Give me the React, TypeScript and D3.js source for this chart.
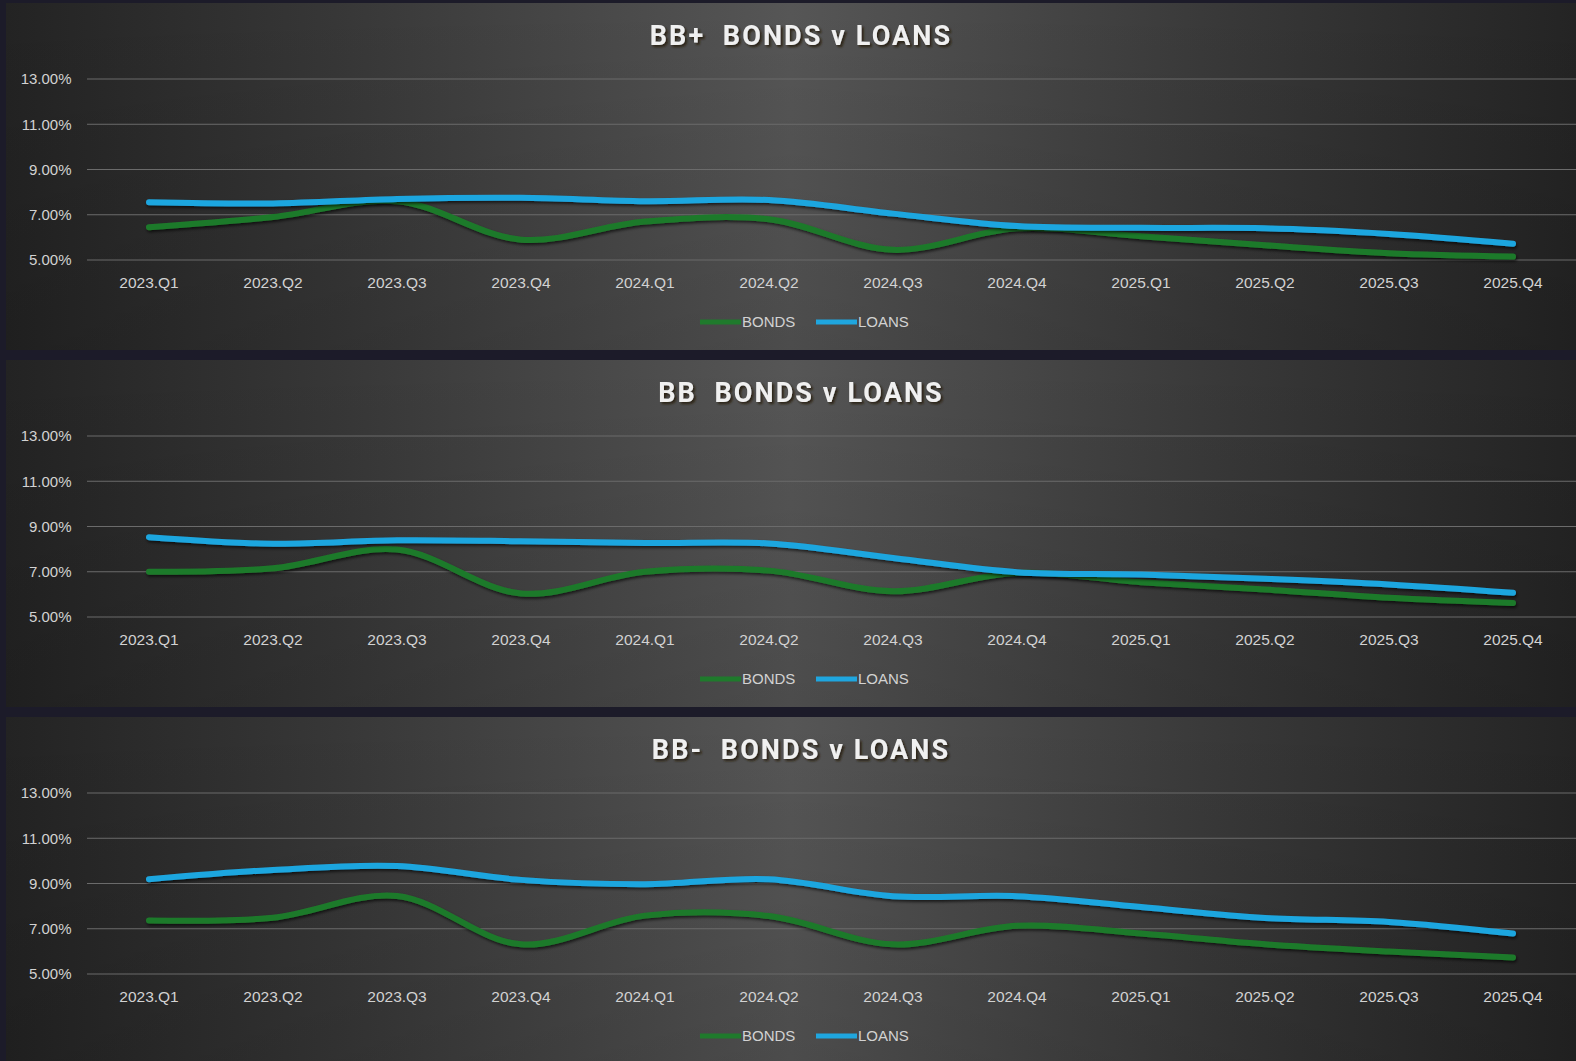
import React, { useEffect, useRef } from 'react';
import * as d3 from 'd3';

const quarters = [
  '2023.Q1', '2023.Q2', '2023.Q3', '2023.Q4',
  '2024.Q1', '2024.Q2', '2024.Q3', '2024.Q4',
  '2025.Q1', '2025.Q2', '2025.Q3', '2025.Q4',
];

const yTicks = [5, 7, 9, 11, 13];

const bbPlusBonds = [6.45, 6.9, 7.6, 5.9, 6.7, 6.8, 5.45, 6.4, 6.05, 5.65, 5.3, 5.15];
const bbPlusLoans = [7.55, 7.5, 7.7, 7.75, 7.6, 7.65, 7.05, 6.5, 6.42, 6.4, 6.15, 5.72];

const bbBonds = [7.0, 7.15, 7.98, 6.04, 7.0, 7.05, 6.14, 6.95, 6.54, 6.22, 5.85, 5.62];
const bbLoans = [8.53, 8.24, 8.39, 8.35, 8.27, 8.25, 7.61, 6.98, 6.88, 6.69, 6.44, 6.07];

const bbMinusBonds = [7.37, 7.49, 8.45, 6.31, 7.58, 7.56, 6.31, 7.13, 6.79, 6.31, 5.99, 5.73];
const bbMinusLoans = [9.19, 9.6, 9.77, 9.16, 8.97, 9.19, 8.44, 8.44, 7.96, 7.48, 7.3, 6.79];

const panels = [
  { title: 'BB+  BONDS v LOANS', bonds: bbPlusBonds, loans: bbPlusLoans },
  { title: 'BB  BONDS v LOANS', bonds: bbBonds, loans: bbLoans },
  { title: 'BB-  BONDS v LOANS', bonds: bbMinusBonds, loans: bbMinusLoans },
];

const BONDS_COLOR = '#1f7a2c';
const LOANS_COLOR = '#1fa6df';

const App: React.FC = () => {
  const svgRef = useRef<SVGSVGElement>(null);

  useEffect(() => {
    if (!svgRef.current) return;
    const width = 1576;
    const height = 1061;
    const svg = d3.select(svgRef.current);
    svg.selectAll('*').remove();
    svg.attr('width', width).attr('height', height);

    const defs = svg.append('defs');
    const grad = defs.append('linearGradient')
      .attr('id', 'panelBg')
      .attr('x1', '0%').attr('x2', '100%').attr('y1', '0%').attr('y2', '0%');
    grad.append('stop').attr('offset', '0%').attr('stop-color', '#232323');
    grad.append('stop').attr('offset', '22%').attr('stop-color', '#383838');
    grad.append('stop').attr('offset', '50%').attr('stop-color', '#565656');
    grad.append('stop').attr('offset', '78%').attr('stop-color', '#383838');
    grad.append('stop').attr('offset', '100%').attr('stop-color', '#242424');

    const shade = defs.append('linearGradient')
      .attr('id', 'panelShade')
      .attr('x1', '0%').attr('x2', '0%').attr('y1', '0%').attr('y2', '100%');
    shade.append('stop').attr('offset', '0%').attr('stop-color', '#000').attr('stop-opacity', 0);
    shade.append('stop').attr('offset', '100%').attr('stop-color', '#000').attr('stop-opacity', 0.12);

    defs.append('filter').attr('id', 'lineShadow')
      .attr('x', '-5%').attr('y', '-50%').attr('width', '110%').attr('height', '200%')
      .append('feDropShadow')
      .attr('dx', 1).attr('dy', 2).attr('stdDeviation', 1.5)
      .attr('flood-color', '#000').attr('flood-opacity', 0.65);

    defs.append('filter').attr('id', 'titleShadow')
      .append('feDropShadow')
      .attr('dx', 2).attr('dy', 2).attr('stdDeviation', 0.8)
      .attr('flood-color', '#2a1c08').attr('flood-opacity', 0.9);

    svg.append('rect').attr('width', width).attr('height', height).attr('fill', '#1c1b29');

    const x = d3.scalePoint<string>().domain(quarters).range([87, 1575]).padding(0.5);

    panels.forEach((p, i) => {
      const top = 3 + i * 357;
      const g = svg.append('g');

      g.append('rect')
        .attr('x', 6).attr('y', top)
        .attr('width', width - 6).attr('height', 347)
        .attr('fill', 'url(#panelBg)');
      g.append('rect')
        .attr('x', 6).attr('y', top)
        .attr('width', width - 6).attr('height', 347)
        .attr('fill', 'url(#panelShade)');

      const y = d3.scaleLinear().domain([5, 13]).range([top + 257, top + 76]);

      g.append('g')
        .selectAll('line')
        .data(yTicks)
        .join('line')
        .attr('x1', 87).attr('x2', 1576)
        .attr('y1', d => y(d)).attr('y2', d => y(d))
        .attr('stroke', '#6b6b6b')
        .attr('stroke-width', 1);

      g.append('g')
        .selectAll('text')
        .data(yTicks)
        .join('text')
        .attr('x', 71.5)
        .attr('y', d => y(d))
        .attr('dy', '0.35em')
        .attr('text-anchor', 'end')
        .attr('font-family', '"Liberation Sans", Arial, sans-serif')
        .attr('font-size', 15)
        .attr('fill', '#d2d2d2')
        .text(d => `${d.toFixed(2)}%`);

      g.append('g')
        .selectAll('text')
        .data(quarters)
        .join('text')
        .attr('x', d => x(d) as number)
        .attr('y', top + 280)
        .attr('dy', '0.35em')
        .attr('text-anchor', 'middle')
        .attr('font-family', '"Liberation Sans", Arial, sans-serif')
        .attr('font-size', 15.5)
        .attr('fill', '#d2d2d2')
        .text(d => d);

      g.append('text')
        .attr('x', 801)
        .attr('y', top + 33)
        .attr('dy', '0.35em')
        .attr('text-anchor', 'middle')
        .attr('font-family', 'Roboto, "Open Sans", sans-serif')
        .attr('font-weight', 'bold')
        .attr('font-size', 27)
        .attr('letter-spacing', 2.1)
        .attr('fill', '#f0f0f0')
        .attr('filter', 'url(#titleShadow)')
        .style('white-space', 'pre')
        .text(p.title);

      const line = d3.line<number>()
        .x((_, j) => x(quarters[j]) as number)
        .y(d => y(d))
        .curve(d3.curveCatmullRom.alpha(0.5));

      [
        { values: p.bonds, color: BONDS_COLOR },
        { values: p.loans, color: LOANS_COLOR },
      ].forEach(s => {
        g.append('path')
          .datum(s.values)
          .attr('d', line)
          .attr('fill', 'none')
          .attr('stroke', s.color)
          .attr('stroke-width', 6)
          .attr('stroke-linecap', 'round')
          .attr('filter', 'url(#lineShadow)');
      });

      // legend
      const legend = g.append('g').attr('transform', `translate(0, ${top + 319})`);
      [
        { name: 'BONDS', color: BONDS_COLOR, x0: 700 },
        { name: 'LOANS', color: LOANS_COLOR, x0: 816 },
      ].forEach(item => {
        legend.append('line')
          .attr('x1', item.x0).attr('x2', item.x0 + 41)
          .attr('y1', 0).attr('y2', 0)
          .attr('stroke', item.color)
          .attr('stroke-width', 5);
        legend.append('text')
          .attr('x', item.x0 + 42)
          .attr('y', 0)
          .attr('dy', '0.35em')
          .attr('font-family', '"Liberation Sans", Arial, sans-serif')
          .attr('font-size', 15)
          .attr('fill', '#d2d2d2')
          .text(item.name);
      });
    });
  }, []);

  return (
    <div style={{ position: 'fixed', left: 0, top: 0, width: 1576, height: 1061, overflow: 'hidden' }}>
      <svg ref={svgRef} style={{ display: 'block' }} />
    </div>
  );
};

export default App;
